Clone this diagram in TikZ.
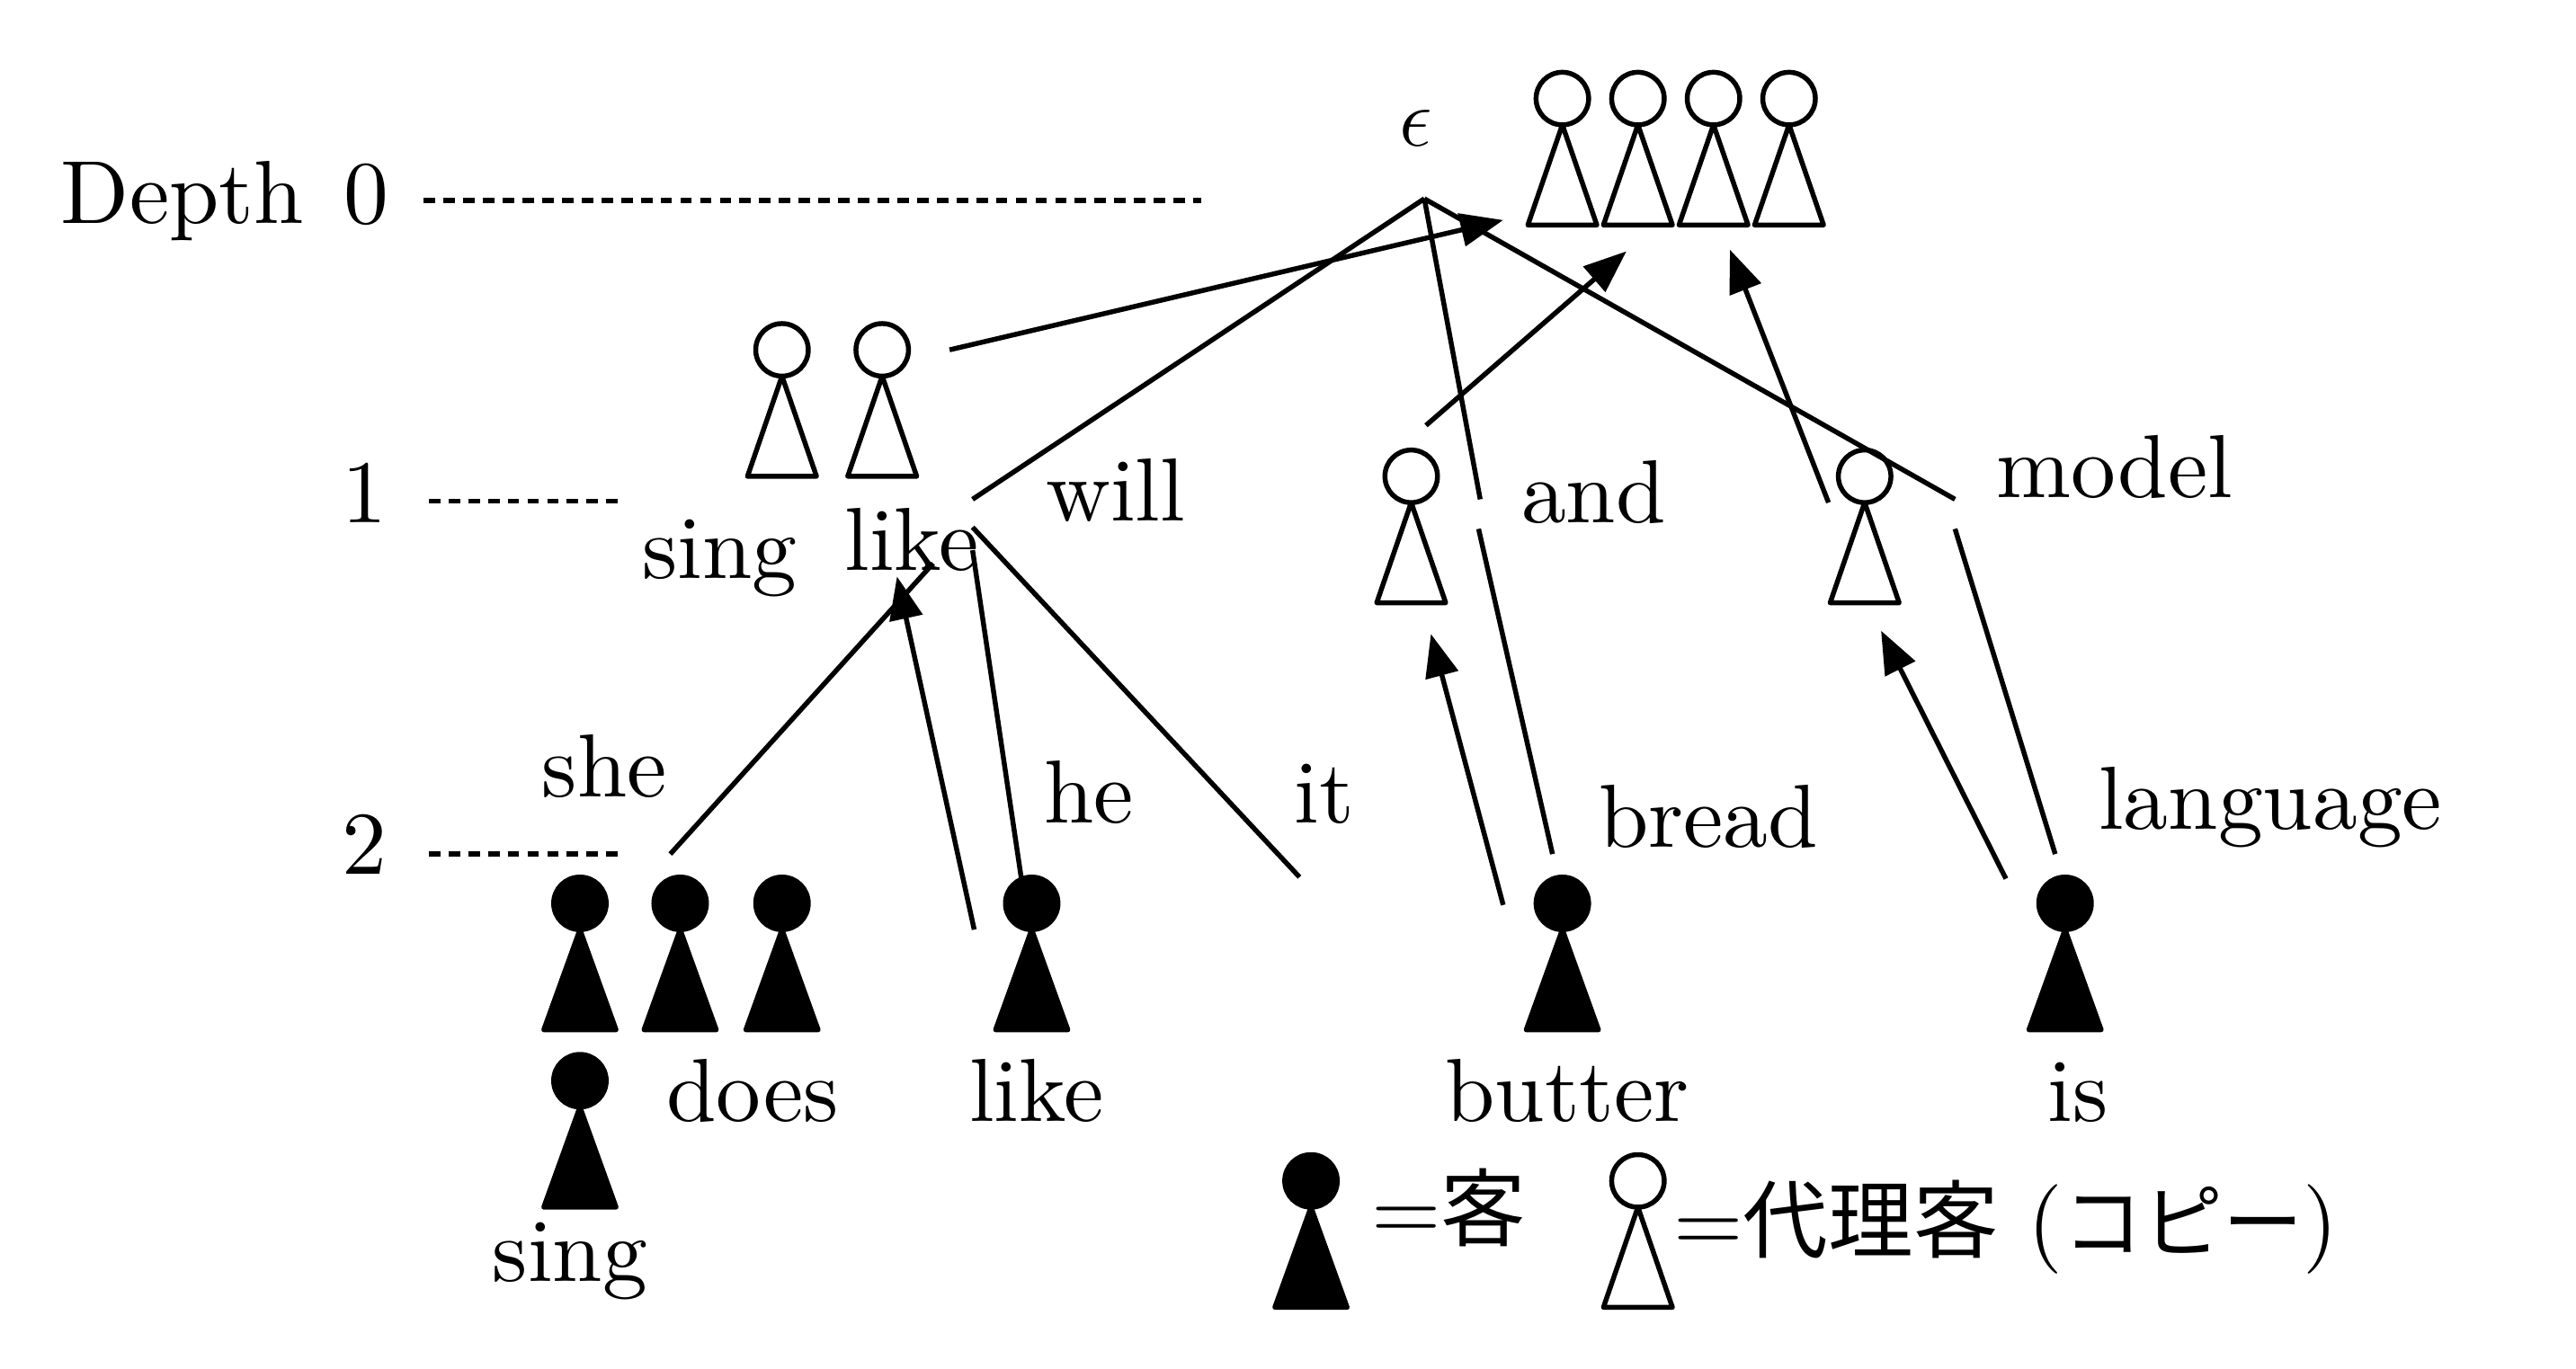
\documentclass[tikz,border=0pt]{standalone}
\usepackage{fontspec}
\usetikzlibrary{arrows.meta}
\setmainfont{lmroman10-regular.otf}
\newfontfamily\jafont[Scale=0.95]{Noto Sans CJK JP}
\tikzset{
  word/.style={inner sep=0pt, anchor=base},
  edge/.style={line width=0.85pt},
  link/.style={line width=0.85pt, -{Triangle[length=0.26cm,width=0.2cm]}},
  depthline/.style={line width=0.85pt, dash pattern=on 0.07cm off 0.05cm},
  fullguest/.pic={\draw[line width=0.85pt, line join=round, fill=black] (0,0) ellipse [x radius=16, y radius=16] (0,16) -- (22,77) -- (-22,77) -- cycle;},
  copyguest/.pic={\draw[line width=0.85pt, line join=round] (0,0) ellipse [x radius=16, y radius=16] (0,16) -- (21,77) -- (-21,77) -- cycle;}
}
\begin{document}
\begin{tikzpicture}[x=0.01cm, y=-0.01cm, font=\fontsize{15.5}{18}\selectfont]
\useasboundingbox (0,0) rectangle (1568,833);
% depth labels
\node[word] (depthname) at (111,136) {Depth};\node[word] (depth0) at (223,136) {0};\node[word] (depth1) at (222,318) {1};\node[word] (depth2) at (222,532) {2};
\coordinate (d0a) at (258,122);\coordinate (d0b) at (731,122);\coordinate (d1a) at (261,305);\coordinate (d1b) at (378,305);\coordinate (d2a) at (261,520);\coordinate (d2b) at (378,520);
\draw[depthline] (d0a) -- (d0b);\draw[depthline] (d1a) -- (d1b);\draw[depthline] (d2a) -- (d2b);
% guests
\pic at (951,60) {copyguest};\pic at (997,60) {copyguest};\pic at (1043,60) {copyguest};\pic at (1089,60) {copyguest};
\pic at (476,213) {copyguest};\pic at (537,213) {copyguest};\pic at (859,290) {copyguest};\pic at (1135,290) {copyguest};
\pic at (353,550) {fullguest};\pic at (414,550) {fullguest};\pic at (476,550) {fullguest};\pic at (353,658) {fullguest};
\pic at (628,550) {fullguest};\pic at (951,550) {fullguest};\pic at (1257,550) {fullguest};
\pic at (798,719) {fullguest};\pic at (997,719) {copyguest};
% words
\node[word] (root) at (862,89) {$\epsilon$};
\node[word] (sing1) at (438,352) {sing};\node[word] (like1) at (555,347) {like};\node[word] (will) at (679,317) {will};\node[word] (and) at (970,318) {and};\node[word] (model) at (1287,303) {model};
\node[word] (she) at (368,485) {she};\node[word] (he) at (663,501) {he};\node[word] (it) at (806,501) {it};\node[word] (bread) at (1040,516) {bread};\node[word] (language) at (1382,505) {language};
\node[word] (does) at (458,683) {does};\node[word] (like2) at (631,683) {like};\node[word] (butter) at (954,683) {butter};\node[word] (is) at (1265,683) {is};\node[word] (sing2) at (347,780) {sing};
\node[word, anchor=base west] (legendfull) at (834,755) {=\jafont 客};
\node[word, anchor=base west] (legendcopy) at (1018,762) {={\jafont 代理客} ({\jafont\fontsize{14.6}{18}\selectfont コピー})};
% trie edges
\coordinate (top) at (867,121);\coordinate (willend) at (592,304);\coordinate (andend) at (901,304);\coordinate (modelend) at (1190,304);
\coordinate (sheend) at (408,520);\coordinate (shestart) at (568,343);\coordinate (hestart) at (592,335);\coordinate (heend) at (622,537);\coordinate (itstart) at (592,321);\coordinate (itend) at (791,534);
\coordinate (breadstart) at (900,322);\coordinate (breadend) at (945,520);\coordinate (langstart) at (1190,322);\coordinate (langend) at (1251,520);
\draw[edge] (top) -- (willend);\draw[edge] (top) -- (andend);\draw[edge] (top) -- (modelend);
\draw[edge] (shestart) -- (sheend);\draw[edge] (hestart) -- (heend);\draw[edge] (itstart) -- (itend);
\draw[edge] (breadstart) -- (breadend);\draw[edge] (langstart) -- (langend);
% links to the copies
\coordinate (a1) at (578,213);\coordinate (a2) at (915,134);\coordinate (b1) at (868,259);\coordinate (b2) at (990,153);\coordinate (c1) at (1113,306);\coordinate (c2) at (1053,152);
\coordinate (e1) at (593,566);\coordinate (e2) at (546,351);\coordinate (f1) at (915,551);\coordinate (f2) at (871,386);\coordinate (g1) at (1221,535);\coordinate (g2) at (1145,384);
\draw[link] (a1) -- (a2);\draw[link] (b1) -- (b2);\draw[link] (c1) -- (c2);\draw[link] (e1) -- (e2);\draw[link] (f1) -- (f2);\draw[link] (g1) -- (g2);
\end{tikzpicture}
\end{document}
